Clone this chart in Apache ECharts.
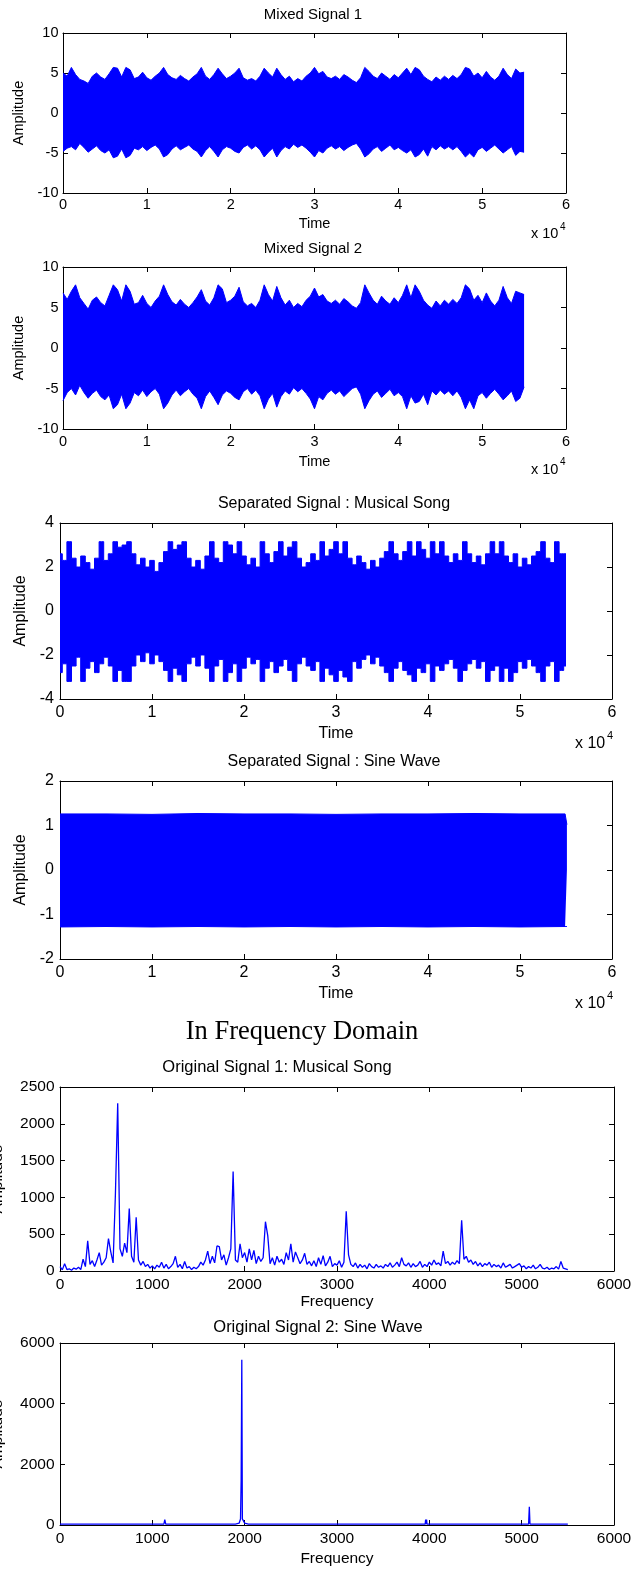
<!DOCTYPE html>
<html>
<head>
<meta charset="utf-8">
<script src="https://cdn.jsdelivr.net/npm/echarts@6/dist/echarts.min.js"></script>
<style>
  html, body { margin: 0; padding: 0; background: #fff; }
  #chart { width: 632px; height: 1571px; }
</style>
</head>
<body>
<div id="chart"></div>
<script>
// time-domain envelopes, one value every TIME_STEP samples (0 .. 55000)
const TIME_STEP = 500
const timeTickLabels = ['0', '1', '2', '3', '4', '5', '6']

const mixed1Upper = [
  5.0, 4.6, 5.7, 4.8, 4.2, 4.0, 3.7, 4.6, 5.0, 4.5, 4.2, 4.9, 5.7, 5.6, 4.5, 5.7, 5.4, 4.3, 4.5, 5.1,
  4.4, 4.1, 4.6, 5.0, 5.7, 4.8, 4.4, 4.2, 4.7, 4.3, 4.0, 4.5, 4.9, 5.7, 4.6, 4.2, 4.8, 5.6, 4.9, 4.3,
  4.6, 5.0, 5.6, 4.4, 4.1, 4.3, 4.0, 4.6, 5.6, 5.0, 4.5, 5.6, 4.8, 4.2, 4.6, 3.9, 4.3, 4.0, 4.6, 5.0,
  5.7, 4.9, 5.2, 4.5, 4.3, 4.6, 4.2, 4.8, 4.5, 4.1, 3.8, 4.4, 5.7, 5.2, 4.6, 4.3, 5.0, 4.6, 4.2, 4.8,
  4.4, 5.0, 5.6, 4.8, 5.7, 5.4, 4.6, 4.2, 3.9, 4.5, 4.1, 4.6, 4.2, 4.7, 4.3, 4.8, 5.7, 5.5, 4.6, 5.0,
  4.4, 5.2, 4.5, 4.1, 4.6, 5.6, 4.8, 4.3, 5.5, 5.0, 5.1
]
const mixed1Lower = [
  -4.8, -4.4, -4.2, -4.6, -3.8, -4.3, -4.9, -4.5, -4.1, -4.7, -5.0, -4.6, -5.6, -5.4, -4.5, -5.6, -5.3, -4.4, -4.6, -4.2,
  -4.7, -4.3, -4.0, -4.5, -5.5, -5.2, -4.5, -4.1, -4.6, -4.3, -4.0, -4.5, -4.8, -5.5, -4.7, -4.2, -4.8, -5.5, -4.6, -4.2,
  -4.4, -4.8, -5.0, -4.3, -4.0, -4.5, -4.1, -4.6, -5.5, -4.9, -4.4, -5.5, -4.7, -4.2, -4.5, -3.9, -4.3, -4.0, -4.4, -4.9,
  -5.5, -4.7, -5.0, -4.4, -4.1, -4.5, -4.2, -4.7, -4.3, -4.0, -3.8, -4.5, -5.5, -5.1, -4.5, -4.2, -4.8, -4.4, -4.0, -4.6,
  -4.3, -4.7, -5.0, -4.6, -5.5, -5.2, -4.5, -5.4, -4.2, -4.6, -4.1, -4.5, -4.2, -4.6, -4.2, -4.8, -5.5, -5.0, -5.5, -4.6,
  -4.3, -4.8, -4.4, -4.0, -4.5, -5.0, -4.6, -4.2, -5.3, -4.8, -4.9
]

const mixed2Upper = [
  6.8, 6.0, 7.0, 7.8, 6.2, 5.5, 4.8, 5.9, 6.3, 5.6, 5.2, 6.5, 7.8, 7.2, 5.8, 7.8, 7.0, 5.4, 5.6, 6.5,
  5.5, 5.0, 5.8, 6.4, 7.8, 6.6, 5.7, 5.3, 6.0, 5.4, 5.0, 5.6, 6.3, 7.2, 5.8, 5.3, 6.2, 7.8, 7.3, 5.6,
  5.9, 6.4, 7.5, 5.7, 5.2, 5.5, 5.0, 5.9, 7.8, 6.6, 5.8, 7.6, 6.2, 5.3, 5.9, 5.0, 5.5, 5.1, 5.9, 6.4,
  7.4, 6.3, 6.6, 5.8, 5.5, 5.9, 5.4, 6.1, 5.7, 5.2, 4.9, 5.6, 7.8, 6.8, 5.9, 5.4, 6.4, 5.8, 5.4, 6.2,
  5.6, 6.5, 7.8, 6.2, 7.8, 7.0, 5.9, 5.3, 4.9, 5.8, 5.2, 5.9, 5.4, 6.0, 5.5, 6.2, 7.8, 7.3, 5.9, 6.5,
  5.6, 6.8, 5.8, 5.2, 5.9, 7.6, 6.2, 5.5, 7.0, 6.8, 6.6
]
const mixed2Lower = [
  -6.5, -5.5, -5.0, -5.8, -4.6, -5.5, -6.2, -5.6, -5.2, -6.0, -6.4, -5.8, -7.5, -7.0, -5.7, -7.5, -6.8, -5.5, -5.9, -5.2,
  -6.0, -5.4, -5.0, -5.7, -7.5, -6.8, -5.8, -5.2, -5.9, -5.4, -5.0, -5.7, -6.2, -7.5, -6.0, -5.3, -6.1, -7.0, -5.8, -5.3,
  -5.6, -6.1, -6.4, -5.4, -5.0, -5.7, -5.2, -5.9, -7.5, -6.3, -5.6, -7.3, -6.0, -5.3, -5.7, -4.9, -5.4, -5.0, -5.6, -6.3,
  -7.5, -6.0, -6.4, -5.6, -5.2, -5.7, -5.3, -6.0, -5.5, -5.0, -4.8, -5.7, -7.5, -6.5, -5.7, -5.3, -6.1, -5.6, -5.1, -5.9,
  -5.5, -6.0, -7.5, -5.9, -6.8, -6.6, -5.7, -7.0, -5.3, -5.8, -5.2, -5.7, -5.3, -5.9, -5.3, -6.1, -7.5, -6.4, -7.5, -5.9,
  -5.5, -6.2, -5.6, -5.1, -5.7, -6.4, -5.9, -5.3, -6.6, -6.2, -4.8
]

const songUpper = [
  2.6, 2.3, 3.15, 2.4, 2.0, 2.5, 2.2, 1.9, 2.4, 3.15, 2.3, 2.6, 3.15, 2.9, 3.0, 3.15, 2.6, 2.1, 2.4, 2.0,
  2.3, 1.8, 2.2, 2.7, 3.15, 2.8, 3.0, 3.15, 2.4, 2.0, 2.3, 1.9, 2.5, 3.15, 2.4, 2.2, 3.15, 3.0, 2.6, 3.15,
  2.5, 2.1, 2.4, 2.0, 3.15, 2.6, 2.2, 2.7, 3.15, 2.5, 2.9, 3.15, 2.4, 2.0, 2.2, 2.6, 2.3, 3.15, 2.5, 2.8,
  3.15, 2.6, 3.15, 2.4, 2.1, 2.5, 2.2, 1.9, 2.3, 2.0, 2.4, 2.7, 3.15, 2.6, 2.3, 2.7, 3.15, 2.5, 3.15, 2.8,
  2.4, 3.15, 2.6, 3.15, 2.5, 2.2, 2.6, 2.3, 3.15, 2.6, 2.2, 2.5, 2.1, 2.6, 3.15, 2.6, 3.15, 2.5, 2.2, 2.6,
  2.0, 2.4, 2.1, 2.5, 2.7, 3.15, 2.4, 2.2, 3.15, 2.6, 2.6
]
const songLower = [
  -2.8, -2.4, -3.2, -2.5, -2.1, -3.2, -2.6, -2.3, -2.8, -2.4, -2.1, -2.5, -3.2, -2.7, -3.2, -3.2, -2.5, -2.0, -2.3, -1.9,
  -2.4, -2.0, -2.3, -2.7, -3.2, -2.6, -2.9, -3.2, -2.4, -2.1, -2.5, -2.0, -2.6, -3.2, -2.5, -2.2, -3.2, -2.8, -2.4, -3.2,
  -2.6, -2.1, -2.4, -2.2, -3.2, -2.6, -2.3, -2.8, -2.5, -2.2, -2.7, -3.2, -2.4, -2.1, -2.5, -2.7, -2.3, -3.2, -2.6, -2.9,
  -3.2, -2.7, -3.0, -3.2, -2.3, -2.6, -2.2, -2.0, -2.4, -2.1, -2.5, -2.8, -3.2, -2.6, -2.3, -2.7, -2.9, -3.2, -2.6, -2.8,
  -2.4, -3.2, -2.5, -2.7, -2.4, -2.2, -2.6, -3.2, -2.7, -2.4, -2.2, -2.6, -2.3, -3.2, -2.7, -2.5, -3.2, -2.6, -3.2, -2.8,
  -2.3, -2.6, -2.2, -2.5, -2.8, -3.2, -2.5, -2.3, -3.2, -2.7, -2.5
]

// separated sine wave: nearly constant envelope
const sineTime = [0, 5000, 10000, 15000, 20000, 25000, 30000, 35000, 40000, 45000, 50000, 54900, 55100]
const sineUpper = [1.26, 1.26, 1.25, 1.27, 1.26, 1.26, 1.25, 1.26, 1.26, 1.27, 1.26, 1.26, 1.02]
const sineLower = [-1.28, -1.27, -1.28, -1.27, -1.28, -1.27, -1.28, -1.27, -1.28, -1.27, -1.28, -1.27, -1.27]

// spectrum of signal 1, one value every FREQ_STEP Hz (0 .. 5500)
const FREQ_STEP = 25
const songSpectrum = [
  60, 15, 100, 20, 30, 10, 40, 25, 50, 20,
  160, 60, 410, 90, 140, 60, 150, 250, 80, 120,
  180, 440, 260, 110, 1040, 2280, 300, 200, 380, 250,
  850, 200, 120, 730, 150, 80, 130, 60, 90, 40,
  70, 30, 80, 50, 120, 40, 90, 30, 60, 100,
  200, 50, 90, 30, 130, 40, 60, 20, 50, 30,
  60, 120, 80, 150, 270, 100, 200, 110, 340, 330,
  150, 220, 80, 180, 300, 1350, 150, 120, 370, 180,
  250, 120, 300, 150, 280, 100, 200, 130, 180, 670,
  480, 100, 180, 80, 200, 120, 160, 90, 250, 150,
  370, 120, 260, 180, 100, 150, 240, 90, 130, 70,
  140, 60, 180, 90, 210, 70, 120, 200, 60, 100,
  80, 140, 50, 120, 810, 220, 90, 60, 110, 40,
  90, 50, 80, 30, 100, 60, 40, 90, 50, 70,
  40, 90, 60, 110, 50, 80, 120, 60, 180, 90,
  70, 110, 50, 100, 60, 80, 130, 50, 90, 60,
  120, 80, 150, 90, 110, 70, 270, 100, 130, 80,
  120, 90, 140, 100, 690, 160, 200, 120, 150, 90,
  130, 70, 110, 60, 100, 80, 120, 50, 90, 60,
  80, 40, 110, 50, 70, 90, 40, 60, 80, 100,
  50, 70, 30, 60, 40, 80, 30, 50, 90, 40,
  30, 50, 20, 40, 30, 60, 25, 130, 40, 30,
  20
]

// spectrum of signal 2 (sine wave)
const sineFreq = [0, 1125, 1135, 1145, 1900, 1940, 1955, 1962, 1969, 1975, 1985, 2000, 2040, 3955, 3960, 3965, 3970, 3975, 3980, 4240, 4245, 4250, 5075, 5083, 5090, 5500]
const sineSpectrum = [30, 30, 180, 30, 30, 60, 200, 1500, 5450, 200, 150, 60, 30, 30, 180, 30, 180, 30, 30, 30, 60, 30, 30, 600, 30, 30]

const FONT = '"Liberation Sans", Arial, sans-serif'
const BLUE = '#0000ff'

const pairs = (xs, ys) => ys.map((y, i) => [xs[i], y])
const stepped = (ys, step) => ys.map((y, i) => [i * step, y])

const panels = [
  {
    grid: { left: 63, top: 33, width: 503, height: 160 },
    fs: 14.5, xMax: 60000, xInterval: 10000, yMin: -10, yMax: 10, yInterval: 5,
    xName: 'Time', xNameGap: 23, yNameGap: 36, labelMargin: 4, yLabelMargin: 4.5,
    timeAxis: true, bands: [stepped(mixed1Upper, TIME_STEP), stepped(mixed1Lower, TIME_STEP)]
  },
  {
    grid: { left: 63, top: 267, width: 503, height: 162 },
    fs: 14.5, xMax: 60000, xInterval: 10000, yMin: -10, yMax: 10, yInterval: 5,
    xName: 'Time', xNameGap: 25, yNameGap: 36, labelMargin: 5.5, yLabelMargin: 4.5,
    timeAxis: true, bands: [stepped(mixed2Upper, TIME_STEP), stepped(mixed2Lower, TIME_STEP)]
  },
  {
    grid: { left: 60, top: 523, width: 552, height: 176 },
    fs: 16, xMax: 60000, xInterval: 10000, yMin: -4, yMax: 4, yInterval: 2,
    xName: 'Time', xNameGap: 27, yNameGap: 31, labelMargin: 5.5, yLabelMargin: 6,
    timeAxis: true, blocky: true, bands: [stepped(songUpper, TIME_STEP), stepped(songLower, TIME_STEP)]
  },
  {
    grid: { left: 60, top: 781, width: 552, height: 178 },
    fs: 16, xMax: 60000, xInterval: 10000, yMin: -2, yMax: 2, yInterval: 1,
    xName: 'Time', xNameGap: 27, yNameGap: 31, labelMargin: 5.5, yLabelMargin: 6,
    timeAxis: true, bands: [pairs(sineTime, sineUpper), pairs(sineTime, sineLower)]
  },
  {
    grid: { left: 60, top: 1087, width: 554, height: 184 },
    fs: 15.5, xMax: 6000, xInterval: 1000, yMin: 0, yMax: 2500, yInterval: 500,
    xName: 'Frequency', xNameGap: 19, yNameGap: 54, labelMargin: 6, yLabelMargin: 5.5,
    line: stepped(songSpectrum, FREQ_STEP)
  },
  {
    grid: { left: 60, top: 1343, width: 554, height: 182 },
    fs: 15.5, xMax: 6000, xInterval: 1000, yMin: 0, yMax: 6000, yInterval: 2000,
    xName: 'Frequency', xNameGap: 26, yNameGap: 54, labelMargin: 6, yLabelMargin: 5.5,
    line: pairs(sineFreq, sineSpectrum)
  }
]

const titles = [
  { text: 'Mixed Signal 1', x: 313, y: 15, fs: 15 },
  { text: 'Mixed Signal 2', x: 313, y: 249, fs: 15 },
  { text: 'Separated Signal : Musical Song', x: 334, y: 504, fs: 16 },
  { text: 'Separated Signal : Sine Wave', x: 334, y: 762, fs: 16 },
  { text: 'Original Signal 1: Musical Song', x: 277, y: 1067, fs: 16.5 },
  { text: 'Original Signal 2: Sine Wave', x: 318, y: 1327, fs: 16.5 }
]

// "x 10^4" multipliers under the time axes
const exponents = [
  { x: 531, y: 234, fs: 14.5 },
  { x: 531, y: 469.5, fs: 14.5 },
  { x: 575, y: 743.5, fs: 16 },
  { x: 575, y: 1004, fs: 16 }
]

const axisLine = { show: true, onZero: false, lineStyle: { color: '#000', width: 1 } }
const axisTick = { show: true, inside: true, length: 5, lineStyle: { color: '#000', width: 1 } }

const grid = []
const xAxis = []
const yAxis = []
const series = []

panels.forEach((p, i) => {
  grid.push(Object.assign({ containLabel: false, outerBoundsMode: 'none' }, p.grid))
  const xBase = { type: 'value', gridIndex: i, min: 0, max: p.xMax, interval: p.xInterval, splitLine: { show: false }, axisLine, axisTick }
  const yBase = { type: 'value', gridIndex: i, min: p.yMin, max: p.yMax, interval: p.yInterval, splitLine: { show: false }, axisLine, axisTick }
  xAxis.push(Object.assign({}, xBase, {
    position: 'bottom',
    name: p.xName, nameLocation: 'middle', nameGap: p.xNameGap,
    nameTextStyle: { color: '#000', fontFamily: FONT, fontSize: p.fs },
    axisLabel: {
      color: '#000', fontFamily: FONT, fontSize: p.fs, margin: p.labelMargin,
      formatter: p.timeAxis ? (v) => timeTickLabels[Math.round(v / 10000)] : (v) => String(v)
    }
  }))
  xAxis.push(Object.assign({}, xBase, { position: 'top', axisLabel: { show: false } }))
  yAxis.push(Object.assign({}, yBase, {
    position: 'left',
    name: 'Amplitude', nameLocation: 'middle', nameGap: p.yNameGap,
    nameTextStyle: { color: '#000', fontFamily: FONT, fontSize: p.fs },
    axisLabel: { color: '#000', fontFamily: FONT, fontSize: p.fs, margin: p.yLabelMargin, formatter: (v) => String(v) }
  }))
  yAxis.push(Object.assign({}, yBase, { position: 'right', axisLabel: { show: false } }))

  const common = {
    type: 'line', xAxisIndex: 2 * i, yAxisIndex: 2 * i,
    showSymbol: false, symbol: 'none', silent: true, animation: false,
    lineStyle: { color: BLUE, width: 1 }, itemStyle: { color: BLUE }
  }
  if (p.bands) {
    p.bands.forEach((band) => {
      // the clipped song signal has flat tops, so draw it with steps
      series.push(Object.assign({}, common, { data: band, step: p.blocky ? 'middle' : false, areaStyle: { color: BLUE, opacity: 1 } }))
    })
  } else {
    series.push(Object.assign({}, common, { data: p.line, lineStyle: { color: BLUE, width: 1.3 } }))
  }
})

const graphic = []
titles.forEach((t) => {
  graphic.push({
    type: 'text', x: t.x, y: t.y, silent: true,
    style: { text: t.text, fill: '#000', font: t.fs + 'px ' + FONT, align: 'center', verticalAlign: 'middle', textAlign: 'center', textVerticalAlign: 'middle' }
  })
})
exponents.forEach((e) => {
  graphic.push({
    type: 'text', x: e.x, y: e.y, silent: true,
    style: { text: 'x 10', fill: '#000', font: e.fs + 'px ' + FONT, align: 'left', verticalAlign: 'middle', textAlign: 'left', textVerticalAlign: 'middle' }
  })
  graphic.push({
    type: 'text', x: e.x + e.fs * 2.0, y: e.y - e.fs * 0.5, silent: true,
    style: { text: '4', fill: '#000', font: Math.round(e.fs * 0.7) + 'px ' + FONT, align: 'left', verticalAlign: 'middle', textAlign: 'left', textVerticalAlign: 'middle' }
  })
})
graphic.push({
  type: 'text', x: 302, y: 1032, silent: true,
  style: { text: 'In Frequency Domain', fill: '#000', font: '26.5px "Liberation Serif", "Times New Roman", serif', align: 'center', verticalAlign: 'middle', textAlign: 'center', textVerticalAlign: 'middle' }
})

const chart = echarts.init(document.getElementById('chart'))
chart.setOption({
  animation: false,
  backgroundColor: '#fff',
  grid,
  xAxis,
  yAxis,
  series,
  graphic
})
</script>
</body>
</html>
